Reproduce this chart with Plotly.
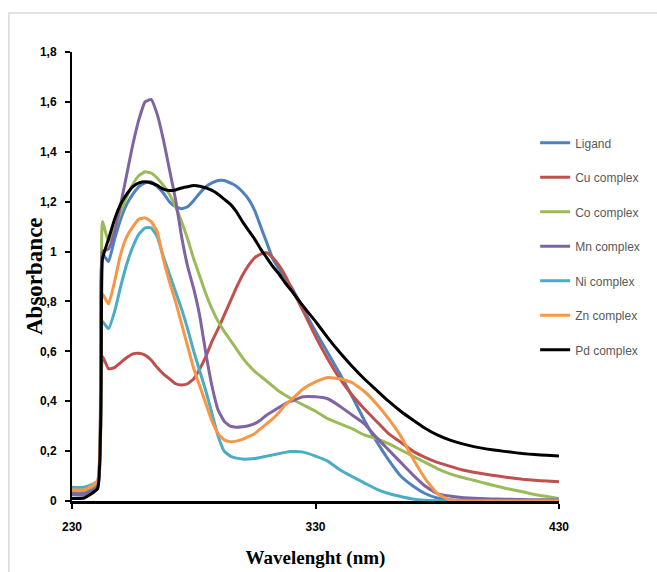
import plotly.graph_objects as go

wavelength = [230, 235, 240.5, 242.5, 245, 247.5, 250, 252.5, 255, 257.5, 260, 262.5, 265, 267.5,
              270, 272.5, 275, 277.5, 280, 282.5, 285, 287.5, 290, 292.5, 295, 297.5, 300, 302.5,
              305, 307.5, 310, 312.5, 315, 317.5, 320, 325, 330, 335, 340, 345, 350, 355, 360,
              365, 370, 375, 380, 385, 390, 395, 400, 405, 410, 415, 420, 425, 430]

ligand = [0.025, 0.025, 0.05, 0.99, 0.96, 1.05, 1.13, 1.19, 1.23, 1.26, 1.275, 1.28, 1.26, 1.235,
          1.20, 1.18, 1.172, 1.18, 1.205, 1.235, 1.26, 1.275, 1.285, 1.285, 1.275, 1.262, 1.24, 1.21,
          1.165, 1.10, 1.035, 0.97, 0.93, 0.89, 0.86, 0.77, 0.68, 0.595, 0.51, 0.42, 0.325, 0.24, 0.165,
          0.10, 0.06, 0.03, 0.012, 0.005, 0.003, 0.002, 0.002, 0.001, 0.001, 0.001, 0.001, 0.0, 0.0]

cu = [0.035, 0.035, 0.06, 0.58, 0.53, 0.535, 0.555, 0.575, 0.59, 0.592, 0.585, 0.565, 0.535, 0.51,
      0.49, 0.47, 0.465, 0.47, 0.49, 0.53, 0.58, 0.64, 0.69, 0.745, 0.80, 0.855, 0.905, 0.945,
      0.975, 0.99, 0.995, 0.975, 0.945, 0.905, 0.855, 0.76, 0.66, 0.57, 0.49, 0.425, 0.37, 0.32, 0.27,
      0.235, 0.20, 0.175, 0.155, 0.14, 0.125, 0.115, 0.107, 0.10, 0.093, 0.087, 0.083, 0.08, 0.077]

co = [0.04, 0.04, 0.07, 1.12, 1.04, 1.09, 1.16, 1.22, 1.27, 1.305, 1.32, 1.315, 1.295, 1.265,
      1.23, 1.18, 1.12, 1.05, 0.97, 0.90, 0.83, 0.77, 0.72, 0.68, 0.645, 0.61, 0.575, 0.545,
      0.52, 0.50, 0.48, 0.46, 0.44, 0.425, 0.41, 0.385, 0.36, 0.33, 0.31, 0.29, 0.265, 0.25, 0.23,
      0.205, 0.18, 0.155, 0.13, 0.11, 0.095, 0.083, 0.07, 0.058, 0.047, 0.037, 0.026, 0.018, 0.01]

mn = [0.03, 0.03, 0.06, 1.0, 1.01, 1.08, 1.19, 1.31, 1.43, 1.53, 1.60, 1.61, 1.55, 1.45,
      1.33, 1.21, 1.06, 0.94, 0.85, 0.74, 0.59, 0.46, 0.365, 0.32, 0.30, 0.296, 0.298, 0.302,
      0.31, 0.325, 0.345, 0.36, 0.375, 0.39, 0.40, 0.418, 0.418, 0.41, 0.38, 0.345, 0.31, 0.255, 0.205,
      0.155, 0.105, 0.06, 0.03, 0.02, 0.014, 0.011, 0.009, 0.008, 0.007, 0.006, 0.005, 0.005, 0.004]

ni = [0.055, 0.055, 0.08, 0.72, 0.69, 0.76, 0.86, 0.95, 1.02, 1.07, 1.095, 1.095, 1.06, 0.98,
      0.91, 0.84, 0.77, 0.69, 0.60, 0.52, 0.44, 0.35, 0.26, 0.20, 0.18, 0.172, 0.168, 0.168,
      0.17, 0.175, 0.18, 0.185, 0.19, 0.195, 0.198, 0.196, 0.18, 0.16, 0.125, 0.098, 0.073, 0.048, 0.03,
      0.018, 0.008, 0.003, 0.001, 0.0, 0.0, 0.0, 0.0, 0.0, 0.0, 0.0, 0.0, 0.0, 0.0]

zn = [0.045, 0.045, 0.08, 0.83, 0.79, 0.88, 0.99, 1.06, 1.10, 1.13, 1.135, 1.12, 1.08, 0.97,
      0.88, 0.80, 0.71, 0.62, 0.53, 0.46, 0.39, 0.32, 0.27, 0.245, 0.238, 0.24, 0.247, 0.258,
      0.27, 0.29, 0.31, 0.33, 0.355, 0.385, 0.405, 0.45, 0.478, 0.495, 0.49, 0.475, 0.44, 0.39, 0.33,
      0.26, 0.17, 0.09, 0.03, 0.004, 0.001, 0.0, 0.0, 0.0, 0.0, 0.0, 0.0, 0.0, 0.0]

pd_ = [0.01, 0.012, 0.05, 0.97, 1.05, 1.13, 1.19, 1.23, 1.26, 1.275, 1.28, 1.275, 1.265, 1.25,
       1.245, 1.247, 1.255, 1.26, 1.265, 1.262, 1.255, 1.245, 1.23, 1.21, 1.19, 1.16, 1.12, 1.085,
       1.05, 1.01, 0.975, 0.94, 0.91, 0.875, 0.845, 0.78, 0.72, 0.655, 0.595, 0.54, 0.49, 0.445, 0.40,
       0.36, 0.325, 0.292, 0.265, 0.245, 0.23, 0.218, 0.209, 0.202, 0.196, 0.19, 0.186, 0.183, 0.18]

series_names = ["Ligand", "Cu complex", "Co complex", "Mn complex", "Ni complex", "Zn complex", "Pd complex"]
series_values = [ligand, cu, co, mn, ni, zn, pd_]
series_colors = ["#4F81BD", "#C0504D", "#9BBB59", "#8064A2", "#4BACC6", "#F79646", "#000000"]

y_ticks = [0, 0.2, 0.4, 0.6, 0.8, 1.0, 1.2, 1.4, 1.6, 1.8]
x_ticks = [230, 330, 430]

fig = go.Figure()
for name, vals, col in zip(series_names, series_values, series_colors):
    fig.add_trace(go.Scatter(x=wavelength, y=vals, mode="lines", name=name, legendgroup=name,
                             line=dict(color=col, width=3, shape="spline", smoothing=0.4)))

tick_font = dict(family="Liberation Sans, Arial, sans-serif", size=12, color="#000000", weight="bold")
serif = "Liberation Serif, Times New Roman, serif"

fig.update_layout(
    width=657, height=572,
    margin=dict(l=72, r=91, t=52, b=71),
    paper_bgcolor="white", plot_bgcolor="white",
    separators=", ",
    showlegend=True,
    legend=dict(x=0.951, y=0.83, xanchor="left", yanchor="top",
                font=dict(family="Liberation Sans, Arial, sans-serif", size=12, color="#595959"),
                itemwidth=30, tracegroupgap=15.5, bgcolor="rgba(0,0,0,0)"),
    xaxis=dict(range=[230, 430], tickvals=x_ticks, ticks="outside", ticklen=5, tickwidth=2,
               tickcolor="black", showline=True, linecolor="black", linewidth=3, showgrid=False,
               zeroline=False, tickfont=tick_font, ticklabelstandoff=8, automargin=False,
               title=dict(text="<b>Wavelenght (nm)</b>", font=dict(family=serif, size=19, color="black"), standoff=18)),
    yaxis=dict(range=[0, 1.8], tickvals=y_ticks, ticks="outside", ticklen=5, tickwidth=2,
               tickcolor="black", showline=True, linecolor="black", linewidth=2, showgrid=False,
               zeroline=False, tickfont=tick_font, ticklabelstandoff=6, automargin=False),
)

fig.add_annotation(text="<b>Absorbance</b>", xref="paper", yref="paper", x=-0.077, y=0.5,
                   xanchor="center", yanchor="middle", textangle=-90, showarrow=False,
                   font=dict(family=serif, size=23, color="black"))

fig.add_shape(type="rect", xref="paper", yref="paper", x0=-0.1296, x1=2.0, y0=-2.0, y1=1.0869,
              line=dict(color="#D9D9D9", width=1.5), fillcolor="rgba(0,0,0,0)", layer="below")

fig.write_html("out.html")
